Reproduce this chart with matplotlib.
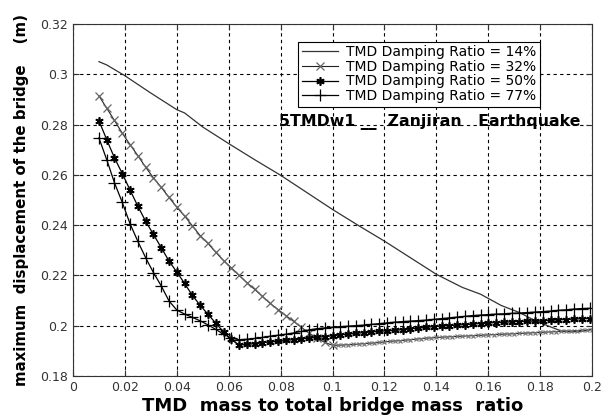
import numpy as np
import matplotlib
matplotlib.use("Agg")
import matplotlib.pyplot as plt
from matplotlib.ticker import FuncFormatter

# TMD damping ratio 14% (plain line)
x14 = [0.010, 0.013, 0.020, 0.030, 0.040, 0.043, 0.050, 0.060, 0.070, 0.080,
       0.090, 0.100, 0.110, 0.120, 0.130, 0.140, 0.150, 0.157, 0.165, 0.172,
       0.177, 0.183, 0.188, 0.192, 0.196, 0.200]
y14 = [0.3050, 0.3037, 0.2994, 0.2925, 0.2859, 0.2846, 0.2790, 0.2724, 0.2660, 0.2598,
       0.2530, 0.2462, 0.2398, 0.2336, 0.2270, 0.2204, 0.2152, 0.2125, 0.2080, 0.2052,
       0.2025, 0.1999, 0.1979, 0.1975, 0.1977, 0.1986]

# TMD damping ratio 32% (x markers), coarser steps below 0.1, finer above
x32 = list(np.round(np.arange(0.010, 0.1005, 0.003), 4)) + list(np.round(np.arange(0.102, 0.2005, 0.002), 4))
y32 = [0.2914, 0.2865, 0.2816, 0.2765, 0.2720, 0.2676, 0.2630, 0.2588, 0.2550, 0.2510,
       0.2471, 0.2436, 0.2397, 0.2358, 0.2327, 0.2292, 0.2259, 0.2230, 0.2200, 0.2171,
       0.2144, 0.2116, 0.2088, 0.2064, 0.2040, 0.2017, 0.1993, 0.1970, 0.1950, 0.1933,
       0.1922,
       0.1922, 0.1923, 0.1924, 0.1925, 0.1927, 0.1928, 0.1930, 0.1931, 0.1933, 0.1935,
       0.1937, 0.1939, 0.1940, 0.1942, 0.1944, 0.1946, 0.1948, 0.1950, 0.1951, 0.1953,
       0.1954, 0.1955, 0.1956, 0.1957, 0.1958, 0.1959, 0.1960, 0.1961, 0.1962, 0.1963,
       0.1964, 0.1965, 0.1966, 0.1967, 0.1968, 0.1969, 0.1970, 0.1971, 0.1972, 0.1973,
       0.1974, 0.1975, 0.1976, 0.1977, 0.1978, 0.1979, 0.1980, 0.1981, 0.1982, 0.1984]

# TMD damping ratios 50% and 77% share the same mass ratios
x50 = list(np.round(np.arange(0.010, 0.2, 0.003), 4))
y50 = [0.2815, 0.2740, 0.2667, 0.2605, 0.2539, 0.2475, 0.2415, 0.2363, 0.2310, 0.2257,
       0.2213, 0.2168, 0.2120, 0.2081, 0.2045, 0.2010, 0.1975, 0.1945, 0.1923, 0.1925,
       0.1928, 0.1932, 0.1935, 0.1938, 0.1941, 0.1944, 0.1947, 0.1950, 0.1953, 0.1956,
       0.1960, 0.1963, 0.1966, 0.1969, 0.1972, 0.1975, 0.1977, 0.1979, 0.1981, 0.1984,
       0.1987, 0.1990, 0.1993, 0.1996, 0.1998, 0.2000, 0.2002, 0.2004, 0.2006, 0.2008,
       0.2010, 0.2012, 0.2013, 0.2015, 0.2016, 0.2017, 0.2018, 0.2019, 0.2021, 0.2023,
       0.2024, 0.2026, 0.2027, 0.2028]
x77 = x50
y77 = [0.2747, 0.2660, 0.2568, 0.2490, 0.2405, 0.2335, 0.2270, 0.2211, 0.2158, 0.2098,
       0.2062, 0.2046, 0.2033, 0.2019, 0.2003, 0.1985, 0.1966, 0.1950, 0.1944, 0.1946,
       0.1949, 0.1953, 0.1958, 0.1962, 0.1966, 0.1971, 0.1977, 0.1983, 0.1988, 0.1991,
       0.1994, 0.1996, 0.1998, 0.2000, 0.2002, 0.2005, 0.2008, 0.2011, 0.2014, 0.2016,
       0.2018, 0.2020, 0.2022, 0.2025, 0.2028, 0.2031, 0.2034, 0.2037, 0.2040, 0.2042,
       0.2044, 0.2046, 0.2047, 0.2049, 0.2050, 0.2052, 0.2054, 0.2056, 0.2058, 0.2061,
       0.2063, 0.2066, 0.2068, 0.2069]

labels = ["TMD Damping Ratio = 14%", "TMD Damping Ratio = 32%",
          "TMD Damping Ratio = 50%", "TMD Damping Ratio = 77%"]

plt.rcParams['font.family'] = ['DejaVu Sans']

fig = plt.figure(figsize=(6.03, 4.2), dpi=100)
ax = fig.add_axes([0.121, 0.105, 0.861, 0.838])

asterisk = (6, 2, 0)
ax.plot(x14, y14, '-', color='#333333', lw=0.9, label=labels[0])
ax.plot(x32[:31], y32[:31], '-', color='#222222', lw=0.8, marker='x', ms=5.5, mec='#666666', mew=0.9, label=labels[1])
ax.plot(x32[30:], y32[30:], '-', color='#222222', lw=0.8, marker='x', ms=3.5, mec='#777777', mew=0.9)
ax.plot(x50, y50, '-', color='black', lw=0.9, marker=asterisk, ms=6, mec='black', mew=1.2, label=labels[2])
ax.plot(x77, y77, '-', color='black', lw=0.9, marker='+', ms=9, mec='black', mew=0.9, label=labels[3])

ax.set_xlim(0, 0.2)
ax.set_ylim(0.18, 0.32)
ax.set_xticks(np.arange(0, 0.2001, 0.02))
ax.set_yticks(np.arange(0.18, 0.3201, 0.02))
fmt = FuncFormatter(lambda v, p: '%g' % round(v, 4))
ax.xaxis.set_major_formatter(fmt)
ax.yaxis.set_major_formatter(fmt)
ax.tick_params(direction='in', labelsize=9, length=4, top=True, right=True, colors='#333333')
ax.grid(True, linestyle=(0, (3, 3)), color='black', lw=0.8)
for s in ax.spines.values():
    s.set_color('#333333')

ax.set_xlabel('TMD  mass to total bridge mass  ratio', fontsize=13, fontweight='bold', labelpad=2)
ax.set_ylabel('maximum  displacement of the bridge    (m)', fontsize=10.8, fontweight='bold', labelpad=8)

ax.text(0.0792, 0.2811, '5TMDw1 __  Zanjiran   Earthquake', fontsize=11.3, fontweight='bold',
        va='center', ha='left')

leg = ax.legend(loc='upper left', bbox_to_anchor=(0.434, 0.95), fontsize=10, frameon=True,
                fancybox=False, edgecolor='black', framealpha=1, handlelength=2.6,
                borderpad=0.25, labelspacing=0.05, handletextpad=0.6, borderaxespad=0)
leg.get_frame().set_linewidth(0.8)

fig.savefig('out.png', dpi=100)
